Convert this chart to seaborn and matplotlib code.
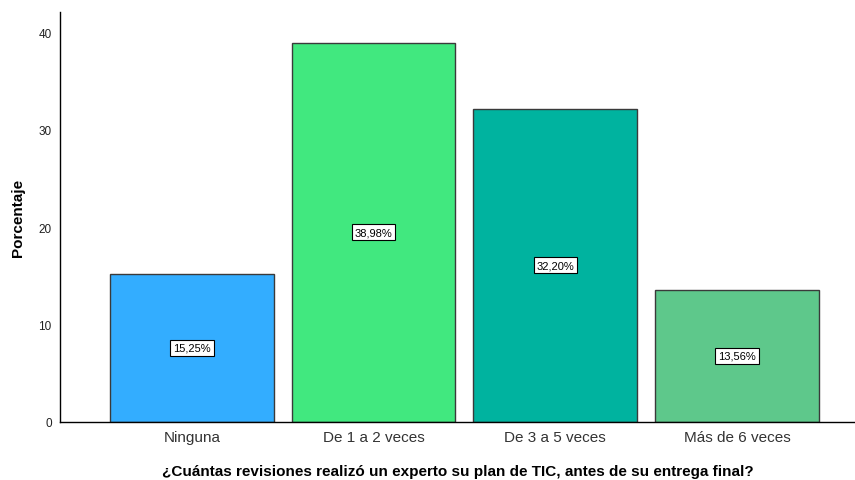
import pandas as pd
import matplotlib.pyplot as plt
import seaborn as sns

# Data

categorias = ["Ninguna", "De 1 a 2 veces", "De 3 a 5 veces", "Más de 6 veces"]
porcentajes = [15.25, 38.98, 32.20, 13.56]
etiquetas = ["15,25%", "38,98%", "32,20%", "13,56%"]
colores = ["#33adff", "#41e87f", "#00b39f", "#5ec88b"]

df = pd.DataFrame({"cat": categorias, "pct": porcentajes})

sns.set_style("white")
plt.rcParams['font.family'] = ['Liberation Sans', 'DejaVu Sans']

fig = plt.figure(figsize=(8.55, 4.81), dpi=100)
ax = fig.add_axes([0.0702, 0.1206, 0.9298, 0.852])

sns.barplot(data=df, x="cat", y="pct", hue="cat", palette=colores, legend=False,
            width=0.9, edgecolor="#3a3a3a", linewidth=1, saturation=1, ax=ax)

# value boxes in the middle of each bar
for i, (v, t) in enumerate(zip(porcentajes, etiquetas)):
    ax.text(i, v / 2, t, ha="center", va="center", fontsize=8, color="black",
            bbox=dict(boxstyle="square,pad=0.25", fc="white", ec="black", lw=0.8))

ax.set_xlim(-0.726, 3.65)
ax.set_ylim(0, 42.1)
ax.set_yticks([0, 10, 20, 30, 40])
ax.tick_params(axis="y", labelsize=8.5, length=0, pad=6, labelcolor="#222222")
ax.tick_params(axis="x", labelsize=11, length=0, pad=6, labelcolor="#333333")
ax.set_ylabel("Porcentaje", fontsize=11, fontweight="bold", labelpad=10, color="black")
ax.set_xlabel("¿Cuántas revisiones realizó un experto su plan de TIC, antes de su entrega final?",
              fontsize=11, fontweight="bold", labelpad=14, color="black")

for s in ["top", "right"]:
    ax.spines[s].set_visible(False)
for s in ["left", "bottom"]:
    ax.spines[s].set_color("black")
    ax.spines[s].set_linewidth(1)

plt.savefig("out.png", dpi=100)
